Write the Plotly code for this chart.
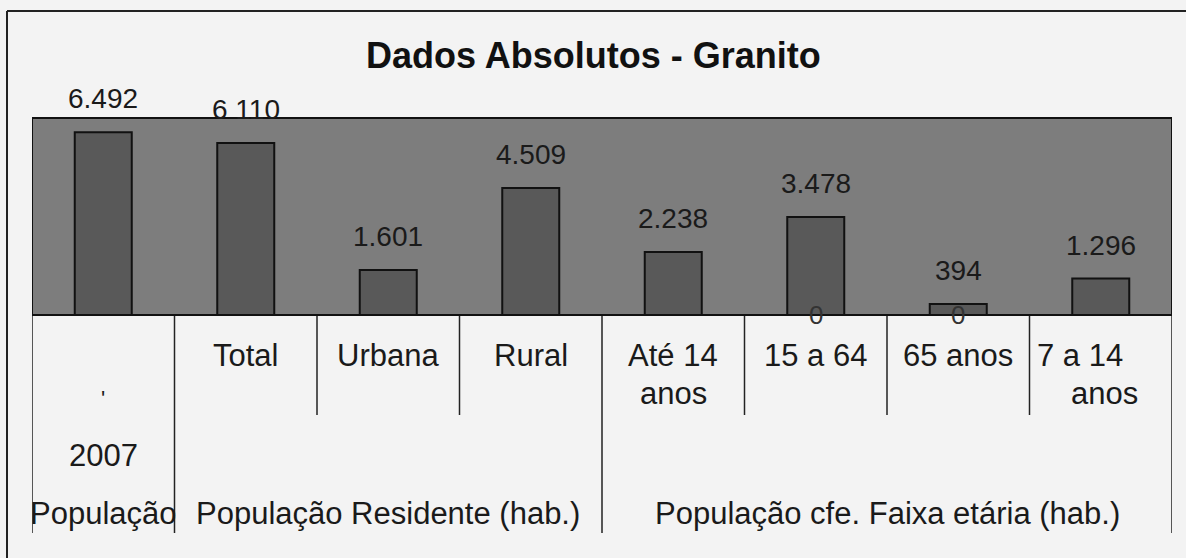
import plotly.graph_objects as go

# ---- data ----
categories = ["População 2007", "Total", "Urbana", "Rural",
              "Até 14 anos", "15 a 64", "65 anos", "7 a 14 anos"]
values = [6492, 6110, 1601, 4509, 2238, 3478, 394, 1296]
value_labels = ["6.492", "6 110", "1.601", "4.509", "2.238", "3.478", "394", "1.296"]
zero_series = [None, None, None, None, None, 0, 0, None]
row1_labels = ["", "Total", "Urbana", "Rural", "Até 14<br>anos", "15 a 64", "65 anos", ""]
group_labels = ["População", "População Residente (hab.)", "População cfe. Faixa etária (hab.)"]
group_spans = [(0, 0), (1, 3), (4, 7)]
year_label = "2007"
title_text = "Dados Absolutos - Granito"

FONT = "Liberation Sans, Arial, sans-serif"
TXT = "#1a1a1a"
W, H = 1186, 558
L, R, T, B = 32, 14, 118, 243
PLOT_BOTTOM = H - B
PLOT_H = H - T - B
PLOT_W = W - L - R


def py(pix):
    """pixel y -> paper y"""
    return (PLOT_BOTTOM - pix) / PLOT_H


def px(pix):
    return (pix - L) / PLOT_W


xs = list(range(len(categories)))

fig = go.Figure()
fig.add_trace(go.Bar(
    x=xs, y=values, width=0.4,
    marker=dict(color="#595959", line=dict(color="#111111", width=2)),
    hoverinfo="skip", showlegend=False,
))

annotations = []
# value labels
for xi, v, lab in zip(xs, values, value_labels):
    annotations.append(dict(x=xi, y=v, xref="x", yref="y", text=lab, showarrow=False,
                            yanchor="bottom", yshift=16,
                            font=dict(family=FONT, size=28, color=TXT)))
# zero labels of the second series
for xi, v in zip(xs, zero_series):
    if v is not None:
        annotations.append(dict(x=xi, y=v, xref="x", yref="y", text=str(v), showarrow=False,
                                yanchor="middle", font=dict(family=FONT, size=26, color="#333333")))

# first row of the category table (each line placed separately)
line_y = [355, 393]
for xi, lab in zip(xs, row1_labels):
    if lab:
        for k, part in enumerate(lab.split("<br>")):
            annotations.append(dict(x=xi, y=py(line_y[k]), xref="x", yref="paper", text=part,
                                    showarrow=False, yanchor="middle",
                                    font=dict(family=FONT, size=31, color=TXT)))
# last cell: "7 a 14" left, "anos" right
annotations.append(dict(x=6.5, y=py(line_y[0]), xref="x", yref="paper", text="7 a 14",
                        showarrow=False, xanchor="left", yanchor="middle", xshift=5,
                        font=dict(family=FONT, size=31, color=TXT)))
annotations.append(dict(x=7.5, y=py(line_y[1]), xref="x", yref="paper", text="anos",
                        showarrow=False, xanchor="right", yanchor="middle", xshift=-32,
                        font=dict(family=FONT, size=31, color=TXT)))
# first column
annotations.append(dict(x=0, y=py(398), xref="x", yref="paper", text="'", showarrow=False,
                        yanchor="middle", font=dict(family=FONT, size=22, color=TXT)))
annotations.append(dict(x=0, y=py(455), xref="x", yref="paper", text=year_label, showarrow=False,
                        yanchor="middle", font=dict(family=FONT, size=31, color=TXT)))
# group labels
for lab, (a, b) in zip(group_labels, group_spans):
    annotations.append(dict(x=(a + b) / 2, y=py(513), xref="x", yref="paper", text=lab,
                            showarrow=False, yanchor="middle",
                            font=dict(family=FONT, size=31, color=TXT)))
# title
annotations.append(dict(x=px(593), y=py(55), xref="paper", yref="paper", text="<b>" + title_text + "</b>",
                        showarrow=False, yanchor="middle",
                        font=dict(family=FONT, size=36, color="#111111")))

shapes = []
line_style = dict(color="#222222", width=1.5)
# inner dividers (short)
for b in [1.5, 2.5, 4.5, 5.5, 6.5]:
    shapes.append(dict(type="line", xref="x", yref="paper", x0=b, x1=b, y0=0, y1=py(415), line=line_style))
# group dividers (long)
for b in [-0.5, 0.5, 3.5, 7.5]:
    shapes.append(dict(type="line", xref="x", yref="paper", x0=b, x1=b, y0=0, y1=py(533), line=line_style))
# plot area frame
shapes.append(dict(type="rect", xref="x", yref="paper", x0=-0.5, x1=7.5, y0=0, y1=1,
                   line=dict(color="#111111", width=2)))
# outer chart border (left and top)
shapes.append(dict(type="line", xref="paper", yref="paper", x0=px(7), x1=px(7), y0=py(11), y1=py(560),
                   line=dict(color="#222222", width=2)))
shapes.append(dict(type="line", xref="paper", yref="paper", x0=px(7), x1=px(1190), y0=py(11), y1=py(11),
                   line=dict(color="#222222", width=2)))

fig.update_layout(
    width=W, height=H,
    margin=dict(l=L, r=R, t=T, b=B),
    paper_bgcolor="#f3f3f3",
    plot_bgcolor="#7d7d7d",
    xaxis=dict(range=[-0.5, 7.5], showticklabels=False, showgrid=False, zeroline=False,
               ticks="", fixedrange=True),
    yaxis=dict(range=[0, 7000], showticklabels=False, showgrid=False, zeroline=False,
               ticks="", fixedrange=True),
    annotations=annotations,
    shapes=shapes,
    bargap=0.6,
)

fig.write_html("out.html", config={"displayModeBar": False},
               post_script="document.body.style.margin='0px';")
